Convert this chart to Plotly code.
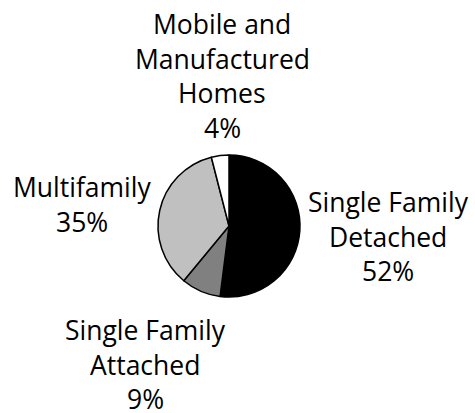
import plotly.graph_objects as go

# Housing stock by type (share, %)
categories = ["Single Family Detached", "Single Family Attached", "Multifamily", "Mobile and Manufactured Homes"]
shares = [52, 9, 35, 4]
colors = ["#000000", "#808080", "#c0c0c0", "#ffffff"]

# Multi-line label text for each category
label_lines = [
    ["Single Family", "Detached"],
    ["Single Family", "Attached"],
    ["Multifamily"],
    ["Mobile and", "Manufactured", "Homes"],
]

W, H = 475, 413
cx, cy, r = 229, 226, 71

# Label block placement in pixels: centre x, baseline of first line
label_px = [(388, 212), (145, 340), (82, 197), (222, 34)]
LINE_GAP = 34.5
FONT_SIZE = 26.5
FONT = dict(family="Open Sans, sans-serif", size=FONT_SIZE, color="#000000")

fig = go.Figure(
    go.Pie(
        labels=categories,
        values=shares,
        sort=False,
        direction="clockwise",
        rotation=0,
        marker=dict(colors=colors, line=dict(color="#000000", width=1.5)),
        textinfo="none",
        hoverinfo="label+percent",
        domain=dict(x=[(cx - r) / W, (cx + r) / W], y=[(H - cy - r) / H, (H - cy + r) / H]),
    )
)

annotations = []
for lines, v, (px, base) in zip(label_lines, shares, label_px):
    for i, line in enumerate(lines + [f"{v}%"]):
        y_mid = base + i * LINE_GAP - 0.36 * FONT_SIZE
        annotations.append(
            dict(
                x=px / W, y=1 - y_mid / H, xref="paper", yref="paper",
                text=line, showarrow=False,
                xanchor="center", yanchor="middle",
                font=FONT,
            )
        )

fig.update_layout(
    width=W, height=H,
    margin=dict(l=0, r=0, t=0, b=0),
    paper_bgcolor="white",
    plot_bgcolor="white",
    showlegend=False,
    annotations=annotations,
)

fig.write_html("out.html")
